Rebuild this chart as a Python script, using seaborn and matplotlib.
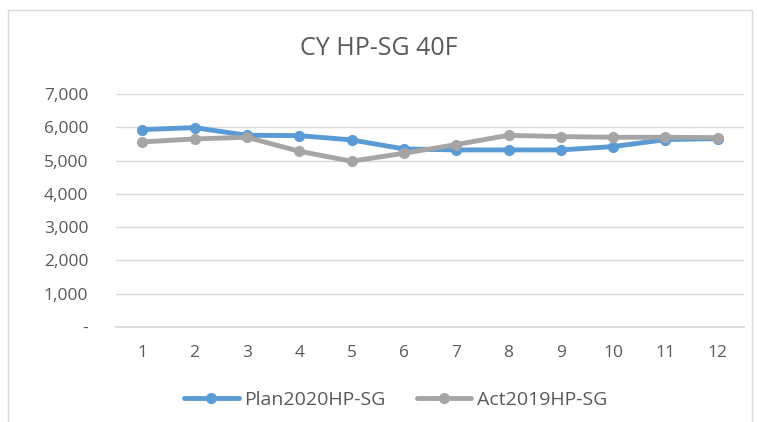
import pandas as pd
import numpy as np
import seaborn as sns
import matplotlib.pyplot as plt
from matplotlib.patches import Rectangle
from matplotlib.ticker import FuncFormatter

months = [1, 2, 3, 4, 5, 6, 7, 8, 9, 10, 11, 12]
plan_2020 = [5930, 5990, 5760, 5750, 5620, 5350, 5320, 5320, 5320, 5420, 5630, 5660]
act_2019 = [5560, 5650, 5700, 5280, 4980, 5220, 5480, 5760, 5720, 5700, 5700, 5690]
series_names = ['Plan2020HP-SG', 'Act2019HP-SG']
colors = ['#5B9BD5', '#A5A5A5']

# long format for seaborn
df = pd.DataFrame({
    'month': months * 2,
    'value': plan_2020 + act_2019,
    'series': [series_names[0]] * 12 + [series_names[1]] * 12,
})
# category positions 0..11
df['pos'] = df['month'] - 1

sns.set_theme(style='white')
plt.rcParams['font.family'] = ['Open Sans', 'DejaVu Sans']
text_color = '#595959'

fig = plt.figure(figsize=(7.57, 4.22), dpi=100)
ax = fig.add_axes([116 / 757, (422 - 327) / 422, (744 - 116) / 757, (327 - 94) / 422])

sns.lineplot(data=df, x='pos', y='value', hue='series', palette=colors,
             marker='o', markersize=8, markeredgewidth=0, linewidth=3.5,
             ax=ax, legend=False)

ax.set_xlim(-0.5, 11.5)
ax.set_ylim(0, 7000)
ax.set_yticks(range(0, 7001, 1000))
ax.yaxis.set_major_formatter(FuncFormatter(lambda v, p: '-' if v == 0 else f'{int(v):,}'))
ax.set_xticks(range(12))
ax.set_xticklabels([str(m) for m in months])
ax.grid(axis='y', color='#D9D9D9', linewidth=1)
ax.set_axisbelow(True)
for s in ['top', 'right', 'left']:
    ax.spines[s].set_visible(False)
ax.spines['bottom'].set_color('#D9D9D9')
ax.tick_params(axis='both', length=0, labelsize=12.5, labelcolor=text_color)
ax.tick_params(axis='y', pad=20)
ax.tick_params(axis='x', pad=13)
ax.set_xlabel('')
ax.set_ylabel('')

fig.text(0.5, 0.884, 'CY HP-SG 40F', ha='center', va='center', fontsize=18, color=text_color)

handles = [plt.Line2D([], [], color=c, marker='o', markersize=8, markeredgewidth=0, linewidth=3.5)
           for c in colors]
fig.legend(handles, series_names, loc='center', bbox_to_anchor=(0.523, 0.052), ncol=2,
           frameon=False, fontsize=14, labelcolor=text_color, handlelength=2.8,
           columnspacing=1.6, handletextpad=0.3)

fig.patches.append(Rectangle((8 / 757, -0.02), (752 - 8) / 757, 1.0 - 10 / 422 + 0.02,
                             transform=fig.transFigure, fill=False, edgecolor='#D9D9D9',
                             linewidth=1))

fig.savefig('out.png', dpi=100)
